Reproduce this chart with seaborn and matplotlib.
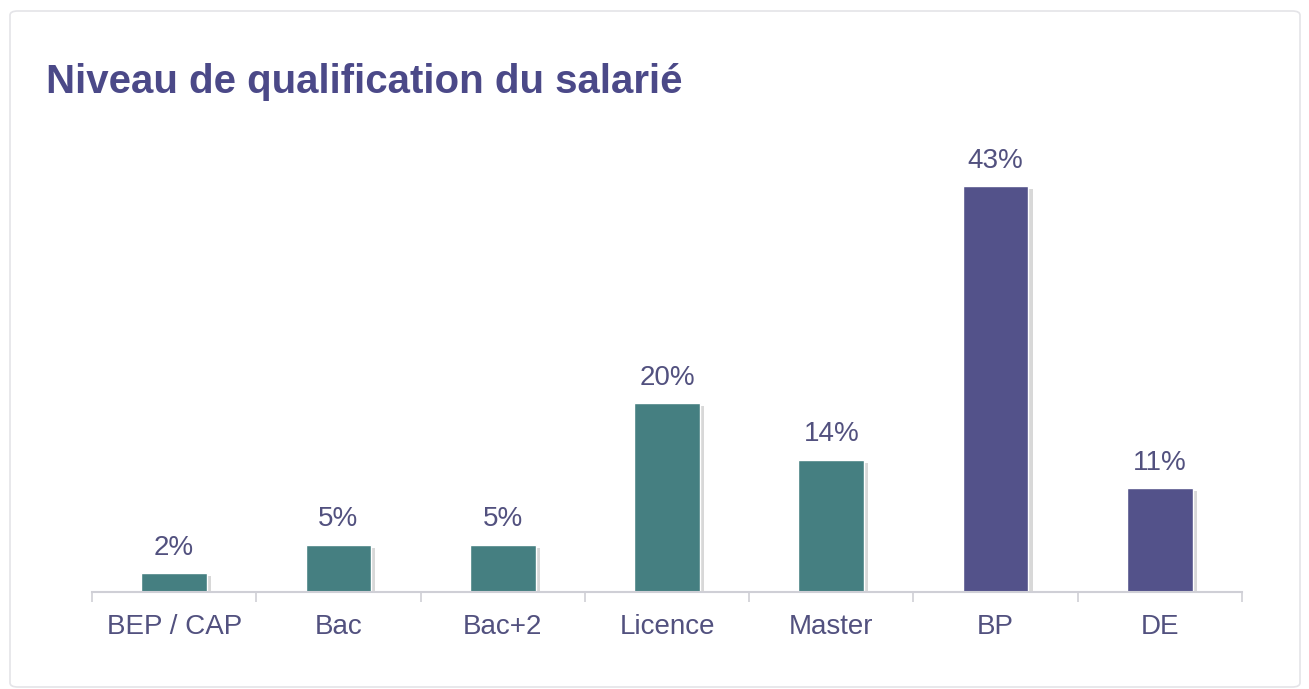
import matplotlib
matplotlib.use("Agg")
import matplotlib.pyplot as plt
import matplotlib.patheffects as pe
from matplotlib.patches import FancyBboxPatch
import pandas as pd
import seaborn as sns

categories = ["BEP / CAP", "Bac", "Bac+2", "Licence", "Master", "BP", "DE"]
values = [2, 5, 5, 20, 14, 43, 11]
bar_colors = ["#457f81", "#457f81", "#457f81", "#457f81", "#457f81", "#53528a", "#53528a"]
title = "Niveau de qualification du salarié"

TEXT = "#52517f"
TITLE = "#4b4988"

sns.set_theme(style="white")
plt.rcParams["font.family"] = ["Liberation Sans", "DejaVu Sans"]

df = pd.DataFrame({"cat": categories, "val": values})

fig = plt.figure(figsize=(13.09, 6.89), dpi=100)
ax = fig.add_axes([0.0703, 0.1408, 0.8785, 0.6575])

# card frame
card = FancyBboxPatch((10 / 1309, 2 / 689), 1290 / 1309, 676 / 689,
                      boxstyle="round,pad=0,rounding_size=0.006",
                      transform=fig.transFigure, facecolor="white",
                      edgecolor="#e4e4e8", linewidth=1.2, zorder=-10)
fig.patches.append(card)

sns.barplot(data=df, x="cat", y="val", hue="cat", palette=bar_colors,
            width=0.4, legend=False, ax=ax, saturation=1)

for p in ax.patches:
    p.set_path_effects([pe.SimplePatchShadow(offset=(3, -2), alpha=0.25, shadow_rgbFace="#666666"),
                        pe.Normal()])

for c in ax.containers:
    ax.bar_label(c, labels=[f"{int(round(v))}%" for v in c.datavalues], padding=9,
                 fontsize=20, color=TEXT)

ax.set_xlim(-0.5, len(categories) - 0.5)
ax.set_ylim(0, 48)
ax.set_xlabel("")
ax.set_ylabel("")
ax.set_yticks([])
ax.patch.set_alpha(0)

for s in ["top", "right", "left"]:
    ax.spines[s].set_visible(False)
ax.spines["bottom"].set_color("#cfcfd6")
ax.spines["bottom"].set_linewidth(1.5)

ax.set_xticks(range(len(categories)))
ax.set_xticklabels(categories, fontsize=20, color=TEXT)
ax.tick_params(axis="x", which="major", length=0, pad=16)
ax.set_xticks([i - 0.5 for i in range(len(categories) + 1)], minor=True)
ax.tick_params(axis="x", which="minor", length=7, width=1.2, color="#cfcfd6",
               direction="out", bottom=True)

fig.text(46 / 1309, 1 - 82 / 689, title, fontsize=29, fontweight="bold",
         color=TITLE, va="center", ha="left")

fig.savefig("out.png", dpi=100, facecolor="white")
